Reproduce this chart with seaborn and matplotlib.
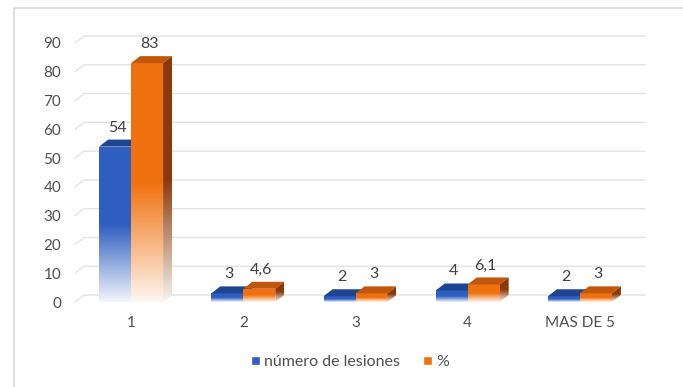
import numpy as np
import pandas as pd
import matplotlib
matplotlib.use("Agg")
import matplotlib.pyplot as plt
from matplotlib.patches import Polygon, Rectangle
from matplotlib.colors import to_rgb
import seaborn as sns

# Data
categorias = ["1", "2", "3", "4", "MAS DE 5"]
lesiones = [54, 3, 2, 4, 2]
porcentaje = [83, 4.6, 3, 6.1, 3]
series = ["número de lesiones", "%"]
y_ticks = [0, 10, 20, 30, 40, 50, 60, 70, 80, 90]

df = pd.DataFrame({
    "cat": categorias * 2,
    "val": lesiones + porcentaje,
    "serie": [series[0]] * len(categorias) + [series[1]] * len(categorias),
})

# colours: front, top, side
blue = ("#2E5EC0", "#1F4592", "#1A3B80")
orange = ("#F0720F", "#C2560C", "#8A3A08")

sns.set_style("white")
plt.rcParams["font.family"] = ["Lato", "DejaVu Sans"]

fig = plt.figure(figsize=(6.83, 3.87), dpi=100)
ax = fig.add_axes([75 / 683, 85 / 387, 561 / 683, 259 / 387])

sns.barplot(data=df, x="cat", y="val", hue="serie", palette=[blue[0], orange[0]],
            width=0.57, saturation=1, legend=False, ax=ax)

ax.set_xlim(-0.5, 4.5)
ax.set_ylim(0, 90)
ax.set_yticks(y_ticks)
ax.set_xlabel("")
ax.set_ylabel("")
for s in ax.spines.values():
    s.set_visible(False)
ax.tick_params(axis="both", length=0, labelsize=11, labelcolor="#505050")
ax.tick_params(axis="y", pad=10)
ax.tick_params(axis="x", pad=10)

# depth of the fake 3D faces, pixels -> data units
p0 = ax.transData.transform((0, 0))
p1 = ax.transData.transform((1, 1))
ddx = 9 / (p1[0] - p0[0])
ddy = 7 / (p1[1] - p0[1])

# back wall gridlines
for v in y_ticks:
    ax.plot([-0.5, -0.5 + ddx, 4.5 + ddx], [v, v + ddy, v + ddy],
            color="#E3E3E3", lw=1, zorder=0.5, clip_on=False)


def fade_img(rgb, n=200):
    r = np.linspace(0, 1, n)
    t = np.clip(r / 0.5, 0, 1)
    t = 0.06 + 0.94 * t
    c = np.array(to_rgb(rgb))
    img = 1 - t[:, None] * (1 - c[None, :])
    return img[:, None, :]


for k, (cont, cols) in enumerate(zip(ax.containers, [blue, orange])):
    z = 2 + k
    for bar in cont:
        x0 = bar.get_x()
        w = bar.get_width()
        h = bar.get_height()
        x1 = x0 + w
        bar.set_facecolor("none")
        bar.set_edgecolor("none")
        bar.set_zorder(z)
        # front face with fade
        im = ax.imshow(fade_img(cols[0]), extent=(x0, x1, 0, h), origin="lower",
                       aspect="auto", zorder=z, interpolation="bilinear")
        im.set_clip_path(bar)
        # top face
        top = Polygon([(x0, h), (x1, h), (x1 + ddx, h + ddy), (x0 + ddx, h + ddy)],
                      closed=True, facecolor=cols[1], edgecolor="none", zorder=z + 0.1)
        ax.add_patch(top)
        # side face
        side = Polygon([(x1, 0), (x1, h), (x1 + ddx, h + ddy), (x1 + ddx, ddy)],
                       closed=True, facecolor="none", edgecolor="none", zorder=z + 0.1)
        ax.add_patch(side)
        ims = ax.imshow(fade_img(cols[2]), extent=(x1, x1 + ddx, 0, h + ddy),
                        origin="lower", aspect="auto", zorder=z + 0.1,
                        interpolation="bilinear")
        ims.set_clip_path(side)
        # value label
        txt = f"{h:g}".replace(".", ",")
        ax.annotate(txt, (x0 + w / 2, h), xytext=(2, 19), textcoords="offset pixels",
                    ha="center", va="center", fontsize=11.5, color="#404040",
                    zorder=10)

ax.set_xlim(-0.5, 4.5)
ax.set_ylim(0, 90)

# legend
handles = [Rectangle((0, 0), 1, 1, facecolor=blue[0]),
           Rectangle((0, 0), 1, 1, facecolor=orange[0])]
fig.legend(handles, series, loc="center", bbox_to_anchor=(350 / 683, 1 - 362 / 387),
           ncol=2, frameon=False, fontsize=11.5, labelcolor="#505050",
           handlelength=0.55, handleheight=0.45, handletextpad=0.25, columnspacing=1.5)

# outer chart frame
fig.patches.append(Rectangle((14 / 683, -0.05), 1.1, 1 - 8 / 387 + 0.05,
                             transform=fig.transFigure, facecolor="none",
                             edgecolor="#D9D9D9", lw=1.2))

fig.savefig("out.png", dpi=100)
